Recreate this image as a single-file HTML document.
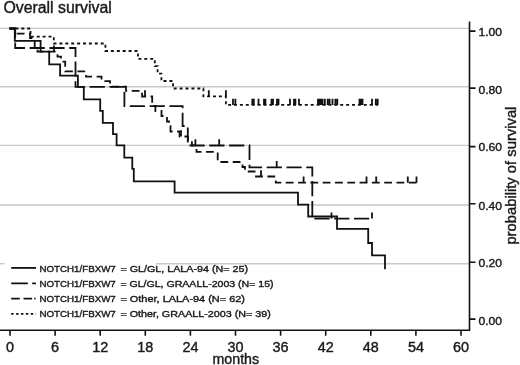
<!DOCTYPE html>
<html><head><meta charset="utf-8"><style>
html,body{margin:0;padding:0;background:#fff;width:520px;height:365px;overflow:hidden}
svg{display:block;filter:grayscale(1)}
text{font-family:"Liberation Sans",sans-serif;fill:#1a1a1a;stroke:#1a1a1a;stroke-width:0.4px}
.c{fill:none;stroke:#111;stroke-width:1.8;stroke-linejoin:miter;stroke-linecap:butt}
</style></head><body>
<svg width="520" height="365" viewBox="0 0 520 365">
<rect width="520" height="365" fill="#fff"/>
<g stroke="#c9c9c9" stroke-width="1.4"><line x1="0" x2="469" y1="28.4" y2="28.4"/><line x1="0" x2="469" y1="86.8" y2="86.8"/><line x1="0" x2="469" y1="145.4" y2="145.4"/><line x1="0" x2="469" y1="205.0" y2="205.0"/><line x1="0" x2="4.6" y1="263.7" y2="263.7"/><line x1="156" x2="469" y1="263.7" y2="263.7"/></g>
<path d="M 0 330.3 H 470.2 M 469.5 21.5 V 331" fill="none" stroke="#111" stroke-width="1.6"/>
<path d="M 469.5 31.1 H 475.5 M 469.5 88.15 H 475.5 M 469.5 146.6 H 475.5 M 469.5 203.7 H 475.5 M 469.5 262.3 H 475.5 M 469.5 319.1 H 475.5 M 10.0 330.3 V 335.8 M 55.1 330.3 V 335.8 M 100.2 330.3 V 335.8 M 145.3 330.3 V 335.8 M 190.4 330.3 V 335.8 M 235.5 330.3 V 335.8 M 280.6 330.3 V 335.8 M 325.7 330.3 V 335.8 M 370.8 330.3 V 335.8 M 415.9 330.3 V 335.8 M 461.0 330.3 V 335.8 " fill="none" stroke="#111" stroke-width="1.6"/>
<g font-size="11.6"><text x="478.4" y="35.6" textLength="23.6" lengthAdjust="spacingAndGlyphs">1.00</text><text x="478.4" y="93.8" textLength="23.6" lengthAdjust="spacingAndGlyphs">0.80</text><text x="478.4" y="150.8" textLength="23.6" lengthAdjust="spacingAndGlyphs">0.60</text><text x="478.4" y="209.5" textLength="23.6" lengthAdjust="spacingAndGlyphs">0.40</text><text x="478.4" y="266.9" textLength="23.6" lengthAdjust="spacingAndGlyphs">0.20</text><text x="478.4" y="324.9" textLength="23.6" lengthAdjust="spacingAndGlyphs">0.00</text></g>
<g font-size="14.4"><text x="10.0" y="351.7" text-anchor="middle">0</text><text x="55.1" y="351.7" text-anchor="middle">6</text><text x="100.2" y="351.7" text-anchor="middle">12</text><text x="145.3" y="351.7" text-anchor="middle">18</text><text x="190.4" y="351.7" text-anchor="middle">24</text><text x="235.5" y="351.7" text-anchor="middle">30</text><text x="280.6" y="351.7" text-anchor="middle">36</text><text x="325.7" y="351.7" text-anchor="middle">42</text><text x="370.8" y="351.7" text-anchor="middle">48</text><text x="415.9" y="351.7" text-anchor="middle">54</text><text x="461.0" y="351.7" text-anchor="middle">60</text></g>
<text x="235.8" y="363.6" font-size="14.2" text-anchor="middle">months</text>
<text x="3.4" y="13.2" font-size="15.8" textLength="108.4" lengthAdjust="spacingAndGlyphs">Overall survival</text>
<text transform="translate(515.5 244.6) rotate(-90)" font-size="14" textLength="138" lengthAdjust="spacingAndGlyphs">probability of survival</text>
<path class="c" d="M 9.5 28.5 H 30.5 V 36.7 H 53.8 V 43.5 H 105.4 V 51 H 138 V 58.9 H 154.8 V 66.2 H 157.6 V 73.6 H 161.4 V 81 H 173 V 88.5 H 203.4 V 96.4 H 225.9 V 104.9 H 378" stroke-dasharray="3 2.9"/><path class="c" d="M 208.8 96.4 V 90.2 M 225.9 96.4 V 90.2 M 233 104.9 V 98.7 M 235.4 104.9 V 98.7 M 252.3 104.9 V 98.7 M 253.8 104.9 V 98.7 M 258.5 104.9 V 98.7 M 264 104.9 V 98.7 M 265.4 104.9 V 98.7 M 271.5 104.9 V 98.7 M 273 104.9 V 98.7 M 277 104.9 V 98.7 M 278.5 104.9 V 98.7 M 290 104.9 V 98.7 M 294 104.9 V 98.7 M 295.4 104.9 V 98.7 M 299 104.9 V 98.7 M 318 104.9 V 98.7 M 319.5 104.9 V 98.7 M 321 104.9 V 98.7 M 322.5 104.9 V 98.7 M 324.8 104.9 V 98.7 M 327.7 104.9 V 98.7 M 329.6 104.9 V 98.7 M 332.5 104.9 V 98.7 M 335.4 104.9 V 98.7 M 337.3 104.9 V 98.7 M 359.5 104.9 V 98.7 M 361 104.9 V 98.7 M 362.5 104.9 V 98.7 M 372 104.9 V 98.7 M 375.8 104.9 V 98.7 M 377.7 104.9 V 98.7 " stroke-width="1.6"/>
<path class="c" d="M 9.5 28.5 H 14.8 V 33.6 H 30 V 38 H 34.7 V 47.6 H 37.5 V 51.7 H 57.5 V 56.6 H 61 V 61.6 H 65.2 V 71.3 H 86 V 76.7 H 101.5 V 81.2 H 110 V 86.6 H 126 V 90.8 H 142.1 V 96.5 H 152.2 V 106 H 155.4 V 111 H 161.5 V 116 H 167 V 121.5 H 169 V 126 H 170.5 V 131.5 H 179.6 V 136.5 H 188 V 140.7 H 191.9 V 145.4 H 196.5 V 151.8 H 217.7 V 162 H 242.5 V 167 H 245 V 171.5 H 254.6 V 176.5 H 275.8 V 182.7 H 416.5" stroke-dasharray="7.8 4.5"/>
<path class="c" d="M 54 51.7 V 45.5 M 145 96.5 V 90.3 M 181 136.5 V 130.3 M 261 176.5 V 170.3 M 303.6 182.7 V 176.5 M 366.5 182.7 V 176.5 M 376.2 182.7 V 176.5 M 407.8 182.7 V 176.5 M 416.5 182.7 V 176.5 "/>
<path class="c" d="M 9.5 28.5 H 15.2 V 48 H 75.5 V 86.9 H 124.4 V 106.2 H 182.6 V 126 H 187.8 V 145.5 H 249.5 V 167.3 H 312.3 V 218.6 H 372" stroke-dasharray="15.2 4.6"/>
<path class="c" d="M 195.4 145.5 V 139.3 M 219.2 145.5 V 139.3 M 276.7 167.3 V 161.10000000000002 M 331.5 218.6 V 212.4 M 372 218.6 V 212.4 "/>
<path class="c" d="M 9.5 28.5 H 14.8 V 40.8 H 40.6 V 51.7 H 49.2 V 64.3 H 60.1 V 75.7 H 77.9 V 86.9 H 83.8 V 99.4 H 100.2 V 110.9 H 102.8 V 122.8 H 113 V 134.2 H 116.6 V 145.3 H 124.3 V 157.6 H 132.3 V 168.8 H 133.8 V 181.3 H 174.6 V 192.7 H 298 V 204.7 H 308.2 V 216.5 H 337 V 228.8 H 368.2 V 243 H 372 V 255.3 H 385 V 269.3" stroke-width="1.9"/>
<path class="c" d="M 34.2 298.6 H 35.5"/><g font-size="9.7"><path d="M 11.2 267.9 H 36" class="c"/><text x="39.4" y="272.3" textLength="76.4" lengthAdjust="spacingAndGlyphs">NOTCH1/FBXW7</text><text x="120.4" y="272.3" textLength="127.6" lengthAdjust="spacingAndGlyphs">= GL/GL, LALA-94 (N= 25)</text><path d="M 11.2 283.3 H 36" class="c" stroke-dasharray="16.6 4.4 3.7 4"/><text x="39.4" y="287.1" textLength="76.4" lengthAdjust="spacingAndGlyphs">NOTCH1/FBXW7</text><text x="120.4" y="287.1" textLength="153.2" lengthAdjust="spacingAndGlyphs">= GL/GL, GRAALL-2003 (N= 15)</text><path d="M 11.2 298.6 H 32.2" class="c" stroke-dasharray="8.6 3.7"/><text x="39.4" y="301.9" textLength="76.4" lengthAdjust="spacingAndGlyphs">NOTCH1/FBXW7</text><text x="120.4" y="301.9" textLength="124.6" lengthAdjust="spacingAndGlyphs">= Other, LALA-94 (N= 62)</text><path d="M 11.2 313.9 H 36" class="c" stroke-dasharray="2.4 2.5"/><text x="39.4" y="316.7" textLength="76.4" lengthAdjust="spacingAndGlyphs">NOTCH1/FBXW7</text><text x="120.4" y="316.7" textLength="150.4" lengthAdjust="spacingAndGlyphs">= Other, GRAALL-2003 (N= 39)</text></g>
</svg>
</body></html>
